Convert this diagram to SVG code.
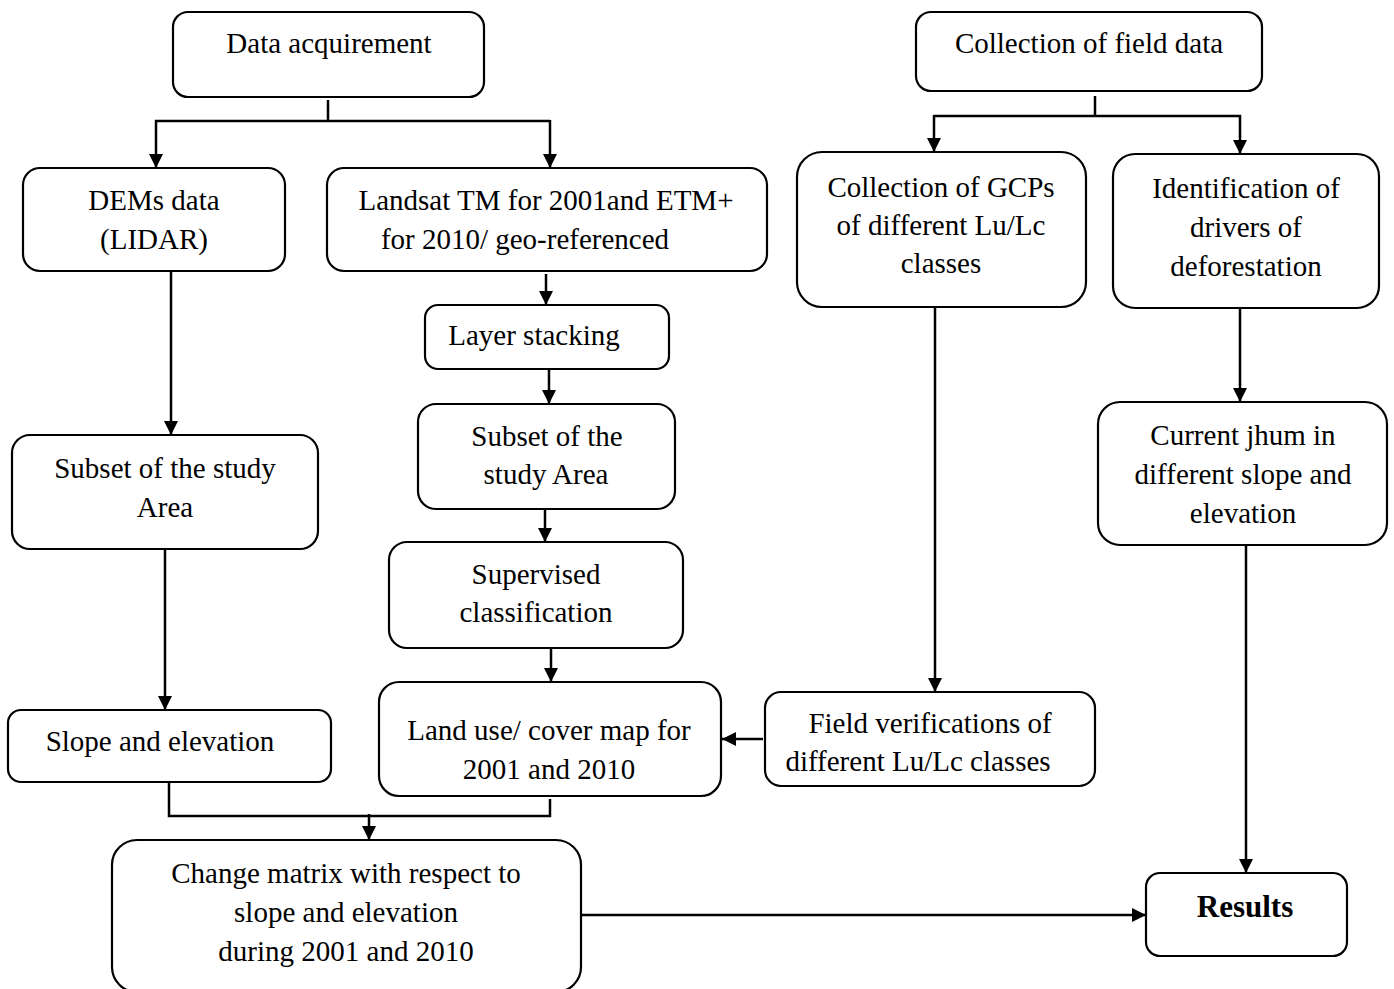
<svg xmlns="http://www.w3.org/2000/svg" width="1394" height="989" viewBox="0 0 1394 989">
<style>
.box{fill:#fff;stroke:#000;stroke-width:2.2}
.t{font-family:"Liberation Serif","Times New Roman",serif;font-size:29px;fill:#000;text-anchor:middle}
.b{font-weight:bold;font-size:31px}
.c{fill:none;stroke:#000;stroke-width:2.5}
</style>
<defs>
<marker id="ah" viewBox="0 0 14 14" refX="14" refY="7" markerWidth="14" markerHeight="14" markerUnits="userSpaceOnUse" orient="auto">
<path d="M0,0 L14,7 L0,14 z" fill="#000"/>
</marker>
</defs>
<rect width="1394" height="989" fill="#fff"/>

<g id="n-data-acq"><rect class="box" x="173" y="12" width="311" height="85" rx="15"/><text class="t" x="329" y="53">Data acquirement</text></g>
<g id="n-field-data"><rect class="box" x="916" y="12" width="346" height="79" rx="15"/><text class="t" x="1089" y="53">Collection of field data</text></g>
<g id="n-dems"><rect class="box" x="23" y="168" width="262" height="103" rx="17"/><text class="t" x="154" y="210">DEMs data</text><text class="t" x="154" y="249">(LIDAR)</text></g>
<g id="n-landsat"><rect class="box" x="327" y="168" width="440" height="103" rx="17"/><text class="t" x="546" y="210">Landsat TM for 2001and ETM+</text><text class="t" x="525" y="249">for 2010/ geo-referenced</text></g>
<g id="n-gcps"><rect class="box" x="797" y="152" width="289" height="155" rx="25"/><text class="t" x="941" y="197">Collection of GCPs</text><text class="t" x="941" y="235">of different Lu/Lc</text><text class="t" x="941" y="273">classes</text></g>
<g id="n-ident"><rect class="box" x="1113" y="154" width="266" height="154" rx="22"/><text class="t" x="1246" y="198">Identification of</text><text class="t" x="1246" y="237">drivers of</text><text class="t" x="1246" y="276">deforestation</text></g>
<g id="n-layer"><rect class="box" x="425" y="305" width="244" height="64" rx="13"/><text class="t" x="534" y="345">Layer stacking</text></g>
<g id="n-subset-mid"><rect class="box" x="418" y="404" width="257" height="105" rx="18"/><text class="t" x="547" y="446">Subset of the</text><text class="t" x="546" y="484">study Area</text></g>
<g id="n-subset-left"><rect class="box" x="12" y="435" width="306" height="114" rx="18"/><text class="t" x="165" y="478">Subset of the study</text><text class="t" x="165" y="517">Area</text></g>
<g id="n-supervised"><rect class="box" x="389" y="542" width="294" height="106" rx="18"/><text class="t" x="536" y="584">Supervised</text><text class="t" x="536" y="622">classification</text></g>
<g id="n-jhum"><rect class="box" x="1098" y="402" width="289" height="143" rx="22"/><text class="t" x="1243" y="445">Current jhum in</text><text class="t" x="1243" y="484">different slope and</text><text class="t" x="1243" y="523">elevation</text></g>
<g id="n-landuse"><rect class="box" x="379" y="682" width="342" height="114" rx="20"/><text class="t" x="549" y="740">Land use/ cover map for</text><text class="t" x="549" y="779">2001 and 2010</text></g>
<g id="n-fieldverif"><rect class="box" x="765" y="692" width="330" height="94" rx="16"/><text class="t" x="930" y="733">Field verifications of</text><text class="t" x="918" y="771">different Lu/Lc classes</text></g>
<g id="n-slope"><rect class="box" x="8" y="710" width="323" height="72" rx="13"/><text class="t" x="160" y="751">Slope and elevation</text></g>
<g id="n-change"><rect class="box" x="112" y="840" width="469" height="152" rx="25"/><text class="t" x="346" y="883">Change matrix with respect to</text><text class="t" x="346" y="922">slope and elevation</text><text class="t" x="346" y="961">during 2001 and 2010</text></g>
<g id="n-results"><rect class="box" x="1146" y="873" width="201" height="83" rx="14"/><text class="t b" x="1245" y="917">Results</text></g>

<g id="connectors">
<path class="c" d="M328,100 V121"/>
<path class="c" d="M155,121 H550"/>
<path class="c" d="M156,120 V168" marker-end="url(#ah)"/>
<path class="c" d="M550,120 V168" marker-end="url(#ah)"/>
<path class="c" d="M1095,96 V116"/>
<path class="c" d="M934,116 H1241"/>
<path class="c" d="M934,115 V152" marker-end="url(#ah)"/>
<path class="c" d="M1240,115 V154" marker-end="url(#ah)"/>
<path class="c" d="M171,271 V435" marker-end="url(#ah)"/>
<path class="c" d="M546,274 V305" marker-end="url(#ah)"/>
<path class="c" d="M549,369 V404" marker-end="url(#ah)"/>
<path class="c" d="M545,509 V542" marker-end="url(#ah)"/>
<path class="c" d="M551,648 V682" marker-end="url(#ah)"/>
<path class="c" d="M165,549 V710" marker-end="url(#ah)"/>
<path class="c" d="M935,307 V692" marker-end="url(#ah)"/>
<path class="c" d="M1240,308 V402" marker-end="url(#ah)"/>
<path class="c" d="M1246,545 V873" marker-end="url(#ah)"/>
<path class="c" d="M763,739 H722" marker-end="url(#ah)"/>
<path class="c" d="M169,782 V816 H550 V799"/>
<path class="c" d="M369,814 V840" marker-end="url(#ah)"/>
<path class="c" d="M581,915 H1146" marker-end="url(#ah)"/>
</g>
</svg>
